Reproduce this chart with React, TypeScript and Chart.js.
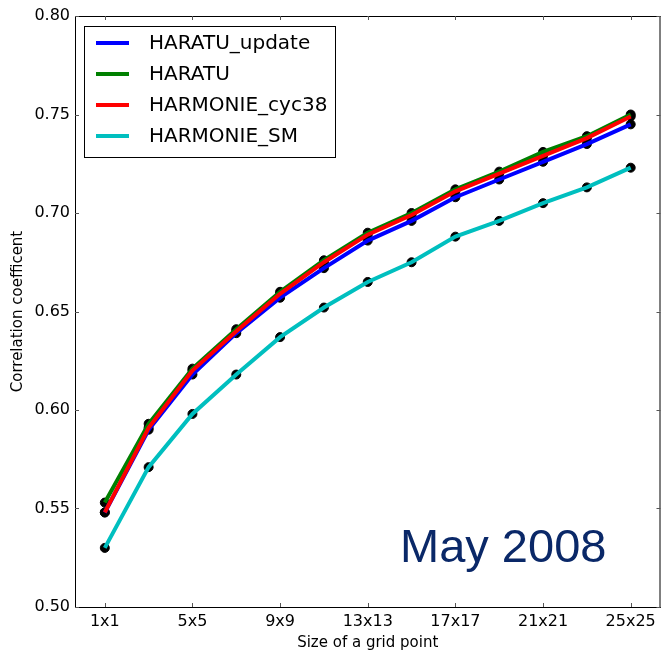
import React, { useEffect, useRef } from "react";
import { Chart, registerables } from "chart.js";

Chart.register(...registerables);

const sizes = ["1x1", "3x3", "5x5", "7x7", "9x9", "11x11", "13x13", "15x15", "17x17", "19x19", "21x21", "23x23", "25x25"];
const tickLabels = ["1x1", "5x5", "9x9", "13x13", "17x17", "21x21", "25x25"];
const yTicks = [0.5, 0.55, 0.6, 0.65, 0.7, 0.75, 0.8];

const haratuUpdate = [0.548, 0.590, 0.618, 0.639, 0.657, 0.672, 0.686, 0.696, 0.708, 0.717, 0.726, 0.735, 0.745];
const haratu = [0.553, 0.593, 0.621, 0.641, 0.660, 0.676, 0.690, 0.700, 0.712, 0.721, 0.731, 0.739, 0.750];
const harmonieCyc38 = [0.548, 0.591, 0.620, 0.640, 0.659, 0.675, 0.689, 0.699, 0.711, 0.720, 0.729, 0.738, 0.749];
const harmonieSM = [0.530, 0.571, 0.598, 0.618, 0.637, 0.652, 0.665, 0.675, 0.688, 0.696, 0.705, 0.713, 0.723];

const seriesNames = ["HARATU_update", "HARATU", "HARMONIE_cyc38", "HARMONIE_SM"];
const seriesValues = [haratuUpdate, haratu, harmonieCyc38, harmonieSM];
const seriesColors = ["#0000ff", "#008000", "#ff0000", "#00bfbf"];

const annotationText = "May 2008";

const toPoints = (vals: number[]) => vals.map((v, i) => ({ x: i, y: v }));

const framePlugin = {
  id: "frameAndLegend",
  afterDraw(chart: any) {
    const ctx = chart.ctx;
    const { left, right, top, bottom } = chart.chartArea;
    const xs = chart.scales.x;
    const ys = chart.scales.y;
    ctx.save();
    // frame
    ctx.strokeStyle = "#000";
    ctx.lineWidth = 1;
    ctx.beginPath();
    ctx.moveTo(left, top + 0.5);
    ctx.lineTo(right, top + 0.5);
    ctx.moveTo(right - 0.5, top);
    ctx.lineTo(right - 0.5, bottom);
    ctx.stroke();
    // inward tick marks
    ctx.strokeStyle = "#555";
    ctx.beginPath();
    tickLabels.forEach((lab) => {
      const idx = sizes.indexOf(lab);
      const px = Math.round(xs.getPixelForValue(idx)) + 0.5;
      ctx.moveTo(px, bottom);
      ctx.lineTo(px, bottom - 4);
      ctx.moveTo(px, top);
      ctx.lineTo(px, top + 4);
    });
    yTicks.forEach((v) => {
      const py = Math.round(ys.getPixelForValue(v)) + 0.5;
      ctx.moveTo(left, py);
      ctx.lineTo(left + 4, py);
      ctx.moveTo(right, py);
      ctx.lineTo(right - 4, py);
    });
    ctx.stroke();

    // legend box
    const bx = 84, by = 26, bw = 251, bh = 131;
    ctx.fillStyle = "#fff";
    ctx.fillRect(bx, by, bw, bh);
    ctx.strokeStyle = "#000";
    ctx.lineWidth = 1;
    ctx.strokeRect(bx + 0.5, by + 0.5, bw, bh);
    ctx.font = "20px 'DejaVu Sans'";
    ctx.textBaseline = "middle";
    ctx.textAlign = "left";
    seriesNames.forEach((name, i) => {
      const cy = 43 + i * 31;
      ctx.strokeStyle = seriesColors[i];
      ctx.lineWidth = 4;
      ctx.beginPath();
      ctx.moveTo(96, cy);
      ctx.lineTo(129, cy);
      ctx.stroke();
      ctx.fillStyle = "#000";
      ctx.fillText(name, 149, cy + 1);
    });

    // annotation
    ctx.font = "47px 'Liberation Sans'";
    ctx.fillStyle = "#0a2868";
    ctx.textBaseline = "alphabetic";
    ctx.fillText(annotationText, 400, 562);
    ctx.restore();
  },
};

export default function App() {
  const ref = useRef<HTMLCanvasElement | null>(null);
  useEffect(() => {
    if (!ref.current) return;
    Chart.defaults.font.family = "'DejaVu Sans'";
    const lineSets = seriesNames.map((name, i) => ({
      label: name,
      data: toPoints(seriesValues[i]),
      borderColor: seriesColors[i],
      backgroundColor: seriesColors[i],
      borderWidth: 4,
      pointRadius: 0,
      showLine: true,
      fill: false,
      tension: 0,
      order: 4 - i,
    }));
    const dotSets = seriesNames.map((name, i) => ({
      label: name + "_dots",
      data: toPoints(seriesValues[i]),
      borderColor: "#000",
      backgroundColor: "#000",
      borderWidth: 1,
      pointRadius: 4.5,
      showLine: false,
      order: 10 + i,
    }));
    const chart = new Chart(ref.current, {
      type: "scatter",
      data: { datasets: [...lineSets, ...dotSets] as any },
      options: {
        animation: false,
        responsive: false,
        layout: { padding: { top: 16, right: 1, left: 0, bottom: 0 } },
        plugins: { legend: { display: false }, tooltip: { enabled: false } },
        scales: {
          x: {
            type: "linear",
            min: -0.68,
            max: 12.68,
            afterBuildTicks: (scale: any) => {
              scale.ticks = tickLabels.map((l) => ({ value: sizes.indexOf(l) }));
            },
            afterFit: (scale: any) => {
              scale.height = 45;
            },
            ticks: {
              autoSkip: false,
              maxRotation: 0,
              padding: 5,
              color: "#000",
              font: { size: 16 },
              callback: (v: any) => sizes[Math.round(v)] ?? "",
            },
            grid: { display: true, drawOnChartArea: false, drawTicks: false },
            border: { display: true, color: "#000", width: 1 },
            title: {
              display: true,
              text: "Size of a grid point",
              color: "#000",
              font: { size: 15 },
              padding: { top: 2, bottom: 0 },
            },
          },
          y: {
            type: "linear",
            min: 0.5,
            max: 0.8,
            afterBuildTicks: (scale: any) => {
              scale.ticks = yTicks.map((v) => ({ value: v }));
            },
            afterFit: (scale: any) => {
              scale.width = 75;
            },
            ticks: {
              padding: 5,
              color: "#000",
              font: { size: 16 },
              callback: (v: any) => Number(v).toFixed(2),
            },
            grid: { display: true, drawOnChartArea: false, drawTicks: false },
            border: { display: true, color: "#000", width: 1 },
            title: {
              display: true,
              text: "Correlation coefficent",
              color: "#000",
              font: { size: 15 },
              padding: { top: 9, bottom: 0 },
            },
          },
        },
      },
      plugins: [framePlugin],
    } as any);
    return () => chart.destroy();
  }, []);
  return (
    <div style={{ position: "absolute", left: 0, top: 0, width: 666, height: 652, background: "#fff" }}>
      <canvas ref={ref} width={666} height={652} />
    </div>
  );
}
